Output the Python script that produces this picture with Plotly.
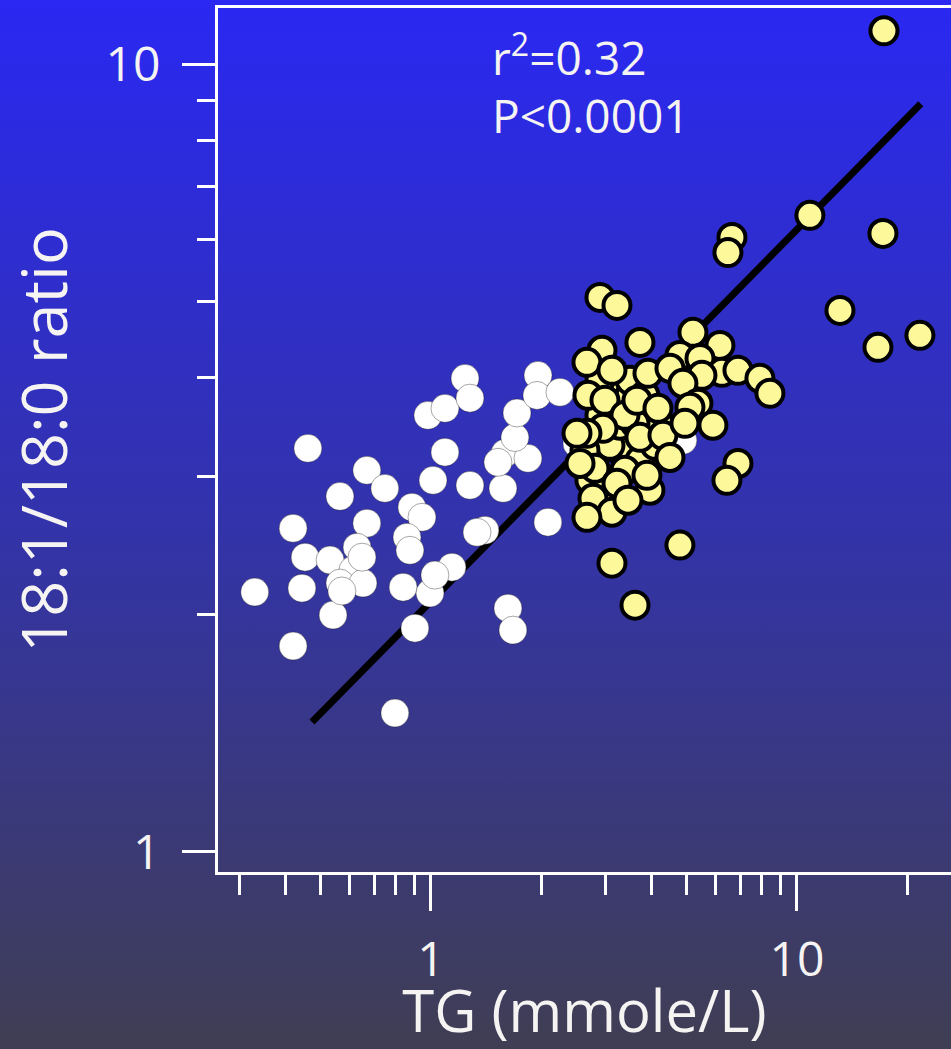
import base64
import plotly.graph_objects as go

# ---- data ----
white_x = [0.461, 0.330, 0.420, 0.420, 0.564, 0.668, 0.748, 0.668, 0.453, 0.530,
           0.444, 0.628, 0.612, 0.564, 0.540, 0.652, 0.648, 0.887, 0.945, 0.860,
           0.876, 0.839, 0.981, 1.092, 1.239, 1.278, 1.092, 1.013, 1.278, 0.994,
           1.141, 1.025, 0.904, 1.404, 1.336, 1.573, 1.593, 1.841, 1.696, 1.718,
           1.961, 1.948, 2.251, 1.623, 1.675, 2.087, 0.797, 2.506, 4.880, 1.524,
           0.571]
white_y = [3.256, 2.138, 2.577, 1.826, 2.829, 3.053, 2.896, 2.615, 2.368, 2.348,
           2.163, 2.438, 2.280, 2.195, 1.999, 2.195, 2.368, 2.741, 2.661, 2.510,
           2.416, 2.169, 3.585, 3.660, 3.995, 3.770, 3.219, 2.965, 2.922, 2.132,
           2.300, 2.247, 1.924, 2.562, 2.547, 2.896, 3.209, 3.162, 3.360, 3.610,
           4.030, 3.800, 3.836, 2.040, 1.913, 2.623, 1.501, 3.300, 3.333, 3.125,
           2.145]

yellow_x = [3.183, 3.498, 2.896, 3.284, 3.966, 3.724, 3.084, 3.389, 4.224, 2.719,
            2.988, 3.966, 2.896, 3.498, 3.843, 3.284, 3.610, 4.093, 2.635,
            2.896, 3.223, 3.724, 2.933, 2.668, 3.123, 3.917, 5.198, 6.160, 4.789,
            5.433, 4.498, 6.238, 6.900, 7.923, 8.438, 5.501, 4.880, 2.685, 2.988,
            3.389, 3.655, 4.171, 5.364, 5.101, 5.894, 2.951, 2.668, 3.724, 4.304,
            4.943, 4.498, 2.806, 3.223, 3.892, 2.771, 3.123, 3.454, 2.668, 6.900,
            6.437, 4.789, 3.123, 3.610, 2.506, 2.554, 10.85, 17.18, 6.644, 6.478,
            13.11, 16.65, 21.68, 17.29]
yellow_y = [3.914, 3.802, 3.585, 3.236, 3.189, 3.143, 3.284, 3.053, 3.483, 2.965,
            2.863, 2.880, 3.972, 3.972, 3.802, 3.483, 3.503, 3.284, 3.236,
            5.062, 4.945, 4.438, 4.336, 4.186, 4.090, 4.054, 4.570, 4.399, 4.272,
            4.235, 4.114, 4.066, 4.090, 3.995, 3.824, 4.030, 3.937, 3.802, 3.747,
            3.585, 3.747, 3.660, 3.714, 3.671, 3.483, 3.452, 3.402, 3.362, 3.382,
            3.503, 3.170, 3.071, 2.939, 3.008, 2.813, 2.701, 2.797, 2.661, 3.115,
            2.965, 2.453, 2.327, 2.058, 3.402, 3.115, 6.435, 6.104, 6.033, 5.772,
            4.873, 4.374, 4.530, 11.04]

fit_x = [0.473, 21.8]
fit_y = [1.462, 8.92]

x_tickvals = [1, 10]
x_ticktext = ["1", "10"]
y_tickvals = [1, 10]
y_ticktext = ["1", "10"]

stat_lines = ["r<sup>2</sup>=0.32", "P<0.0001"]

# ---- figure ----
FONT = "Open Sans"
TXT = "#f6f4f2"
W, H = 951, 1049
ML, MR, MT, MB = 218, 0, 8, 177
pw, ph = W - ML - MR, H - MT - MB

fig = go.Figure()
fig.add_trace(go.Scatter(x=fit_x, y=fit_y, mode="lines",
                         line=dict(color="black", width=7), hoverinfo="skip"))
fig.add_trace(go.Scatter(x=white_x, y=white_y, mode="markers",
                         marker=dict(size=28, color="white",
                                     line=dict(color="rgba(0,0,0,0.35)", width=1))))
fig.add_trace(go.Scatter(x=yellow_x, y=yellow_y, mode="markers",
                         marker=dict(size=27, color="#fdf99b",
                                     line=dict(color="black", width=4))))

svg = ('<svg xmlns="http://www.w3.org/2000/svg" width="10" height="100" preserveAspectRatio="none">'
       '<defs><linearGradient id="g" x1="0" y1="0" x2="0" y2="1">'
       '<stop offset="0" stop-color="#2a28f2"/>'
       '<stop offset="0.5" stop-color="#3333aa"/>'
       '<stop offset="1" stop-color="#403e52"/>'
       '</linearGradient></defs><rect width="10" height="100" fill="url(#g)"/></svg>')
uri = "data:image/svg+xml;base64," + base64.b64encode(svg.encode()).decode()

pad = 6
fig.add_layout_image(dict(source=uri, xref="paper", yref="paper",
                          x=-(ML + pad) / pw, y=1 + MT / ph,
                          sizex=(W + 2 * pad) / pw, sizey=(H + pad) / ph,
                          xanchor="left", yanchor="top", sizing="stretch",
                          layer="below", opacity=1))

for i, t in enumerate(stat_lines):
    fig.add_annotation(text=t, xref="paper", yref="paper",
                       x=(490 - ML) / pw, y=1 - ((55 + 60 * i) - MT) / ph,
                       xanchor="left", yanchor="middle", showarrow=False,
                       font=dict(family=FONT, size=46, color=TXT))

axis_common = dict(type="log", showgrid=False, zeroline=False, showline=True,
                   linecolor="white", linewidth=3, ticks="outside",
                   tickcolor="white", tickwidth=3, tickmode="array",
                   tickfont=dict(family=FONT, size=48, color=TXT))

fig.update_xaxes(**axis_common, range=[-0.582, 1.421], tickvals=x_tickvals,
                 ticktext=x_ticktext, ticklen=36, mirror=True,
                 ticklabelstandoff=7,
                 minor=dict(ticks="outside", ticklen=20, tickwidth=3,
                            tickcolor="white", dtick="D1", showgrid=False),
                 title=dict(text="TG (mmole/L)", standoff=5,
                            font=dict(family=FONT, size=58, color=TXT)))
fig.update_yaxes(**axis_common, range=[-0.0255, 1.0719], tickvals=y_tickvals,
                 ticktext=y_ticktext, ticklen=33, ticklabelstandoff=12,
                 minor=dict(ticks="outside", ticklen=18, tickwidth=3,
                            tickcolor="white", dtick="D1", showgrid=False),
                 title=dict(text="18:1/18:0 ratio", standoff=34,
                            font=dict(family=FONT, size=63, color=TXT)))

fig.update_layout(width=W, height=H, margin=dict(l=ML, r=MR, t=MT, b=MB),
                  paper_bgcolor="#403e52", plot_bgcolor="rgba(0,0,0,0)",
                  showlegend=False)

fig.write_html("out.html")
